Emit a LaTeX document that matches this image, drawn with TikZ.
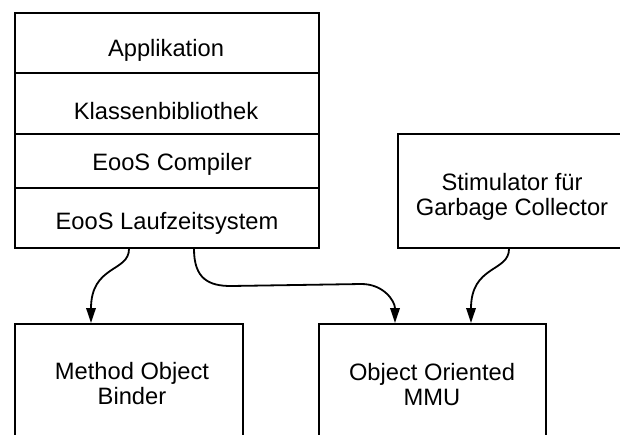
\documentclass[tikz,border=0pt]{standalone}
\usepackage{fontspec}
\setmainfont{Liberation Sans}
\usetikzlibrary{arrows.meta,calc}
\tikzset{
  boxnode/.style={draw, line width=2pt, rectangle, inner sep=0pt, anchor=north west},
  lbl/.style={inner sep=0pt, anchor=base, font=\fontsize{23.7}{25}\selectfont},
  conn/.style={line width=1.8pt, -{Triangle[length=15pt,width=9.5pt]}},
}
\begin{document}
\begin{tikzpicture}[x=1pt,y=1pt]
\useasboundingbox (0,0) rectangle (620,-434);
\clip (0,0) rectangle (620,-434);
% stack
\node[boxnode, minimum width=304pt, minimum height=60pt] (app) at (14,-12) {};
\node[boxnode, minimum width=304pt, minimum height=61pt] (klass) at (14,-72) {};
\node[boxnode, minimum width=304pt, minimum height=54pt] (comp) at (14,-133) {};
\node[boxnode, minimum width=304pt, minimum height=60pt] (lauf) at (14,-187) {};
% other boxes
\node[boxnode, minimum width=230pt, minimum height=114pt] (stim) at (397,-133) {};
\node[boxnode, minimum width=228pt, minimum height=122pt] (binder) at (14,-323) {};
\node[boxnode, minimum width=227pt, minimum height=122pt] (mmu) at (318,-323) {};
% texts
\node[lbl] (tapp) at (166,-56.7) {Applikation};
\node[lbl] (tklass) at (166,-119) {Klassenbibliothek};
\node[lbl] (tcomp) at (172,-170) {EooS Compiler};
\node[lbl] (tlauf) at (167,-229) {EooS Laufzeitsystem};
\node[lbl] (tstim) at (512,-190) {\begin{tabular}[t]{@{}c@{}}Stimulator für\\Garbage Collector\end{tabular}};
\node[lbl] (tbinder) at (132,-379) {\begin{tabular}[t]{@{}c@{}}Method Object\\Binder\end{tabular}};
\node[lbl] (tmmu) at (432,-380) {\begin{tabular}[t]{@{}c@{}}Object Oriented\\MMU\end{tabular}};
% connectors
\coordinate (c1) at ($(lauf.south)+(64,-37)$);
\coordinate (c2) at ($(mmu.north)+(-71,39)$);
\draw[conn] ($(lauf.south)+(-38,0)$) .. controls +(0,-23) and ($(binder.north)+(-38,58)$) .. ($(binder.north)+(-38,0)$);
\draw[conn] ($(stim.south)+(-4,0)$) .. controls +(0,-23) and ($(mmu.north)+(38.5,58)$) .. ($(mmu.north)+(38.5,0)$);
\draw[conn] ($(lauf.south)+(27,0)$) .. controls +(0,-30) and ($(c1)+(-22,0)$) .. (c1) -- (c2) .. controls +(22,0) and ($(mmu.north)+(-37.5,22)$) .. ($(mmu.north)+(-37.5,0)$);
\end{tikzpicture}
\end{document}
